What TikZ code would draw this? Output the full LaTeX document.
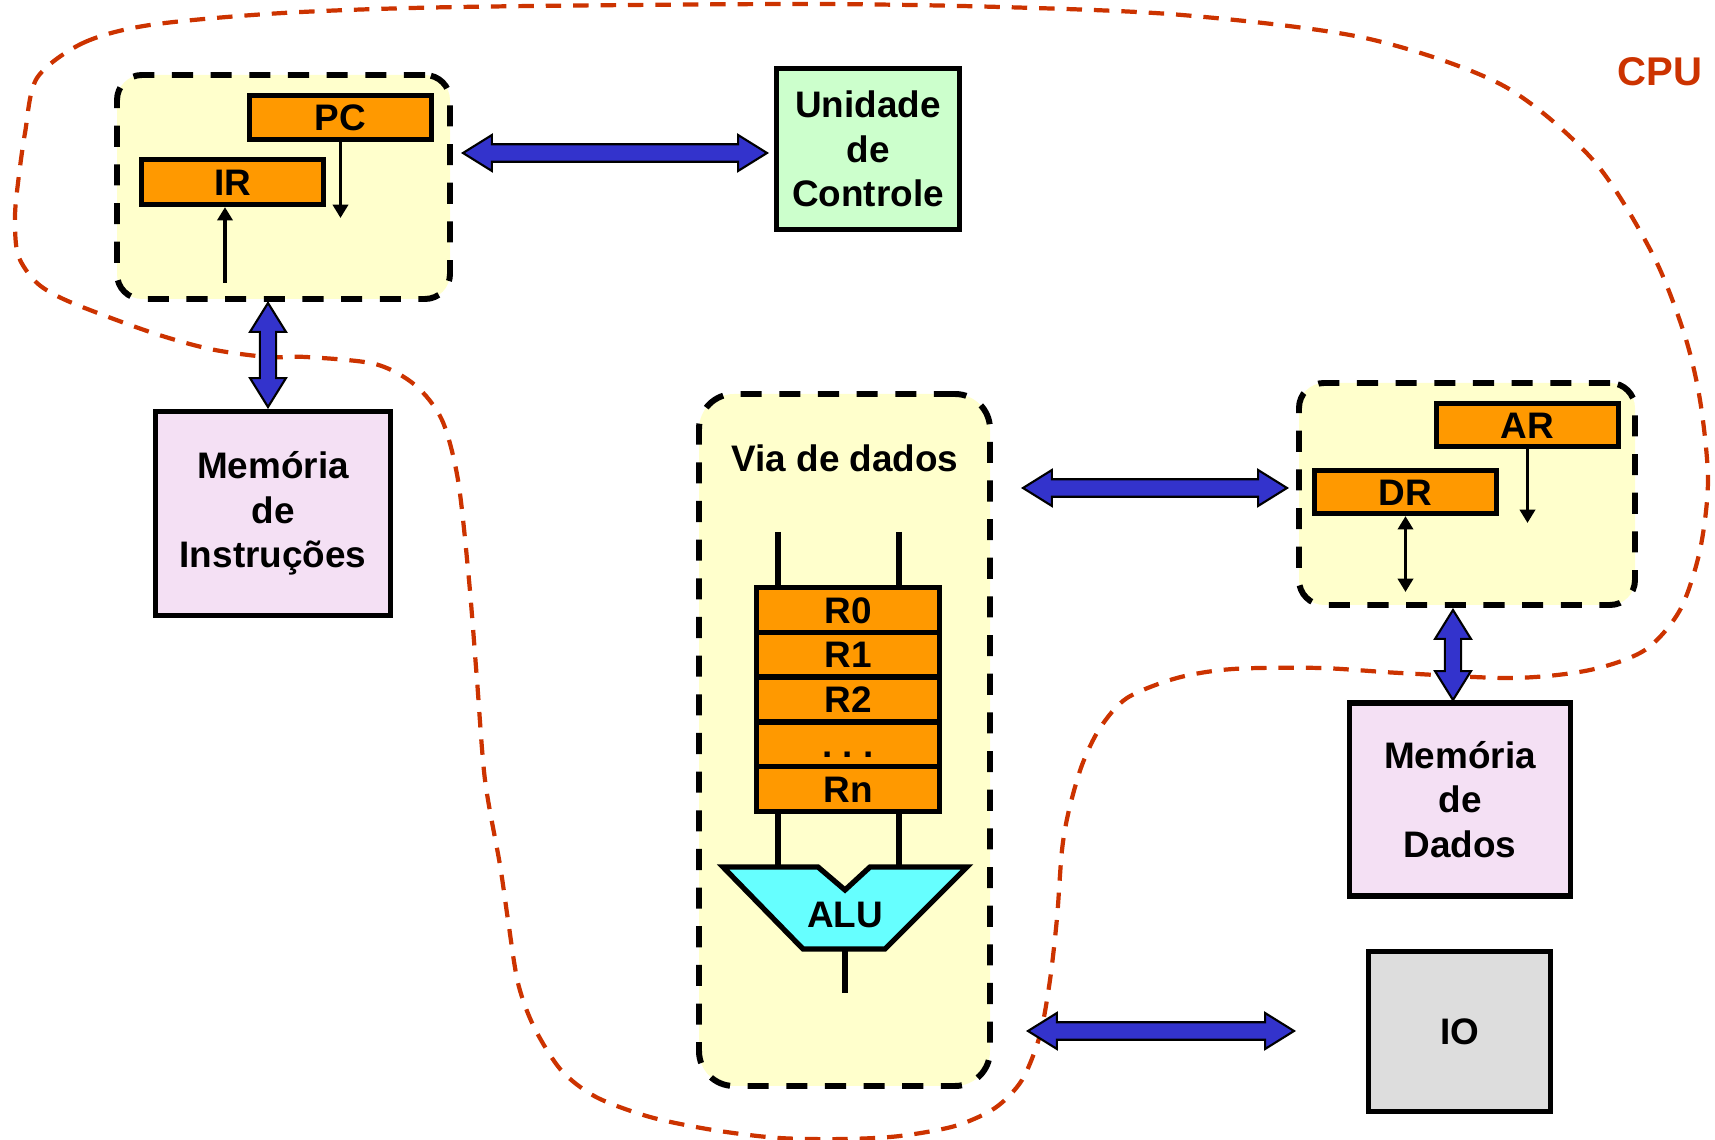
\documentclass[tikz,border=0pt]{standalone}
\usepackage{fontspec}
\setmainfont{Liberation Sans}
\usetikzlibrary{arrows.meta,calc}
\definecolor{cpured}{HTML}{CC3300}
\definecolor{grpyellow}{HTML}{FFFFCC}
\definecolor{regor}{HTML}{FF9900}
\definecolor{alucyan}{HTML}{66FFFF}
\definecolor{ucgreen}{HTML}{CCFFCC}
\definecolor{mempink}{HTML}{F4E0F4}
\definecolor{iogray}{HTML}{DDDDDD}
\definecolor{busblue}{HTML}{3333CC}
\tikzset{
  lbl/.style={font=\fontsize{10.5}{12.6}\selectfont\bfseries, align=center},
  reg/.style={draw, line width=1.5pt, fill=regor, inner sep=0pt, lbl, text height=7.5pt, text depth=0pt},
  unit/.style={draw, line width=1.5pt, inner sep=0pt, lbl},
  grp/.style={draw, line width=1.7pt, dash pattern=on 6pt off 5pt, fill=grpyellow, inner sep=0pt},
  bus/.style={fill=busblue, draw=black, line width=0.6pt},
  sig/.style={line width=1.1pt, -{Triangle[length=3.8pt,width=4.3pt]}},
  sigboth/.style={line width=1.1pt, {Triangle[length=3.8pt,width=4.3pt]}-{Triangle[length=3.8pt,width=4.3pt]}},
  wire/.style={line width=1.7pt},
  cpuline/.style={draw=cpured, line width=1.2pt, dash pattern=on 4.4pt off 3.4pt},
}
\newcommand\hbus[2]{\path[bus] let \p1=(#1), \p2=(#2) in
  (\x1,\y1) -- (\x1+8.2pt,\y1+5.1pt) -- (\x1+8.2pt,\y1+2.5pt) -- (\x2-8.2pt,\y1+2.5pt)
  -- (\x2-8.2pt,\y1+5.1pt) -- (\x2,\y1) -- (\x2-8.2pt,\y1-5.1pt) -- (\x2-8.2pt,\y1-2.5pt)
  -- (\x1+8.2pt,\y1-2.5pt) -- (\x1+8.2pt,\y1-5.1pt) -- cycle;}
\newcommand\vbus[2]{\path[bus] let \p1=(#1), \p2=(#2) in
  (\x1,\y1) -- (\x1+5.1pt,\y1-8.2pt) -- (\x1+2.3pt,\y1-8.2pt) -- (\x1+2.3pt,\y2+8.2pt)
  -- (\x1+5.1pt,\y2+8.2pt) -- (\x1,\y2) -- (\x1-5.1pt,\y2+8.2pt) -- (\x1-2.3pt,\y2+8.2pt)
  -- (\x1-2.3pt,\y1-8.2pt) -- (\x1-5.1pt,\y1-8.2pt) -- cycle;}
\begin{document}
\begin{tikzpicture}[x=0.1mm,y=-0.1mm]
\useasboundingbox (0,0) rectangle (1715,1140);

% CPU outline
\draw[cpuline] plot[smooth cycle, tension=0.5] coordinates {
(37,78) (83,43) (150,25) (283,13) (459,7) (797,4) (1000,7) (1182,15) (1365,38) (1502,85)
(1593,160) (1652,253) (1684,333) (1700,400) (1708,480) (1700,550) (1680,610) (1645,650)
(1590,670) (1513,678) (1400,673) (1320,668) (1233,669) (1177,678) (1127,698) (1100,728)
(1082,765) (1069,810) (1062,850) (1057,918) (1050,980) (1040,1035) (1022,1080) (995,1108)
(955,1126) (900,1136) (846,1139) (779,1138) (713,1130) (650,1117) (596,1097) (561,1070)
(534,1027) (518,983) (508,920) (500,865) (485,780) (477,680) (469,580) (458,480) (442,420)
(415,385) (375,364) (306,357) (267,357) (210,349) (150,332) (70,302) (37,283) (18,255)
(15,217) (18,183) (25,133)};
\node[font=\fontsize{11.4}{13}\selectfont\bfseries, text=cpured] (cpu) at (1660,72) {CPU};

% top-left group: PC / IR
\node[grp, rounded corners=2.5mm, minimum width=33.3mm, minimum height=22.4mm] (ubox) at (283.5,187) {};
\node[reg, minimum width=18.2mm, minimum height=4.4mm] (PC) at (340.5,117.5) {PC};
\node[reg, minimum width=18.2mm, minimum height=4.5mm] (IR) at (232.5,182) {IR};
\coordinate (pcend) at (340.5,218);
\draw[sig] (PC.south) -- (pcend);
\coordinate (irsrc) at (225,283);
\draw[sig] (irsrc) -- (irsrc |- IR.south);

% control unit
\node[unit, fill=ucgreen, minimum width=18.3mm, minimum height=16.1mm] (UC) at (868,149) {Unidade\\de\\Controle};

% instruction memory
\node[unit, fill=mempink, minimum width=23.5mm, minimum height=20.4mm] (MI) at (273,513.5) {Memória\\de\\Instruções};

% datapath
\node[grp, rounded corners=3.5mm, minimum width=29.1mm, minimum height=69.2mm] (via) at (844.5,740) {};
\node[lbl] (vialbl) at (845,458) {Via de dados};
\node[reg, minimum width=18.3mm, minimum height=4.48mm] (r0) at (848,609.9) {R0};
\node[reg, minimum width=18.3mm, minimum height=4.48mm] (r1) at (848,654.7) {R1};
\node[reg, minimum width=18.3mm, minimum height=4.48mm] (r2) at (848,699.5) {R2};
\node[reg, minimum width=18.3mm, minimum height=4.48mm] (rd) at (848,744.3) {.\ .\ .};
\node[reg, minimum width=18.3mm, minimum height=4.48mm] (rn) at (848,789.1) {Rn};
\coordinate (in1) at (778,532);
\coordinate (in2) at (899,532);
\draw[wire] (in1) -- (in1 |- r0.north);
\draw[wire] (in2) -- (in2 |- r0.north);
\coordinate (alua) at (778,867);
\coordinate (alub) at (899,867);
\draw[wire] (alua |- rn.south) -- (alua);
\draw[wire] (alub |- rn.south) -- (alub);
\draw[line width=1.5pt, fill=alucyan] (723,867) -- (818,867) -- (845,890) -- (870,867)
  -- (967,867) -- (885,949) -- (803,949) -- cycle;
\node[lbl] (alu) at (845,915) {ALU};
\coordinate (aluo) at (845,949);
\coordinate (aluend) at (845,993);
\draw[wire] (aluo) -- (aluend);

% right group: AR / DR
\node[grp, rounded corners=2.5mm, minimum width=33.6mm, minimum height=22.2mm] (rbox) at (1467,494) {};
\node[reg, minimum width=18.2mm, minimum height=4.3mm] (AR) at (1527.5,425) {AR};
\node[reg, minimum width=18.2mm, minimum height=4.3mm] (DR) at (1405.5,492) {DR};
\coordinate (arend) at (1527.5,523);
\draw[sig] (AR.south) -- (arend);
\coordinate (drend) at (1405.5,592);
\draw[sigboth] (DR.south) -- (drend);

% data memory and IO
\node[unit, fill=mempink, minimum width=22.1mm, minimum height=19.3mm] (MD) at (1460,799.5) {Memória\\de\\Dados};
\node[unit, fill=iogray, minimum width=18.2mm, minimum height=16.0mm] (IO) at (1459.5,1031.5) {IO};

% buses
\coordinate (b1l) at (463,153);  \coordinate (b1r) at (767,153);
\coordinate (v1t) at (268,303);  \coordinate (v1b) at (268,407);
\coordinate (b2l) at (1023,488); \coordinate (b2r) at (1287,488);
\coordinate (v2t) at (1453,610); \coordinate (v2b) at (1453,700);
\coordinate (b3l) at (1028,1031); \coordinate (b3r) at (1294,1031);
\hbus{b1l}{b1r}
\vbus{v1t}{v1b}
\hbus{b2l}{b2r}
\vbus{v2t}{v2b}
\hbus{b3l}{b3r}
\end{tikzpicture}
\end{document}
